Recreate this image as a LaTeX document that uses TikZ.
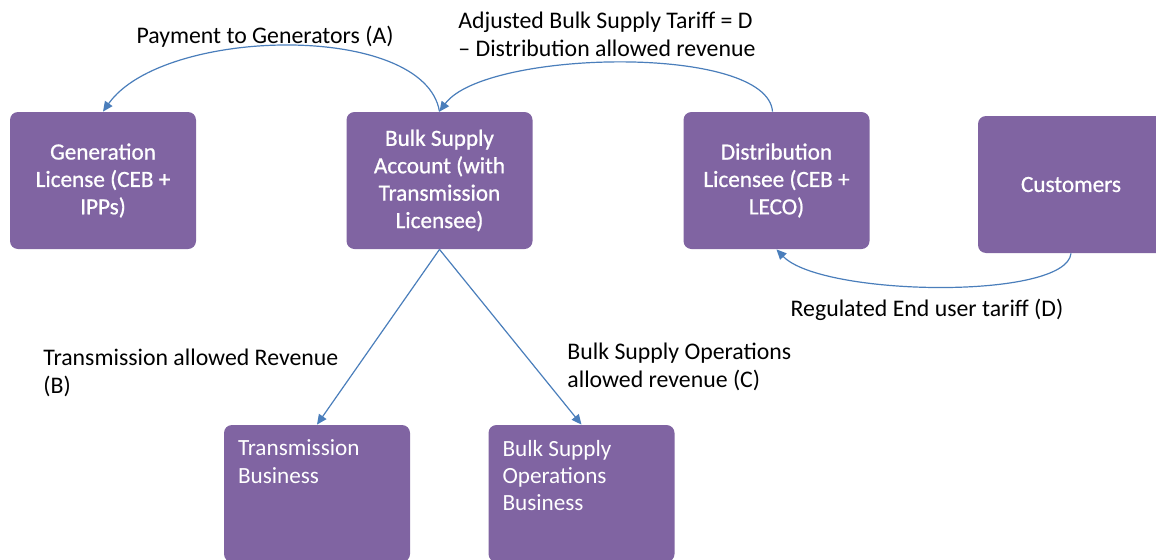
\documentclass[tikz,border=0pt]{standalone}
\usepackage{fontspec}
\setmainfont{Carlito}
\newfontfamily\semibold[FakeBold=0.8]{Carlito}
\usetikzlibrary{arrows.meta}
\definecolor{boxpurple}{HTML}{8064A2}
\definecolor{flowblue}{HTML}{4A7EBB}
\tikzset{
  licbox/.style={fill=boxpurple, rounded corners=4pt, text=white, align=center,
    minimum width=93pt, minimum height=68.5pt, inner sep=2pt,
    font=\semibold\fontsize{11.6}{13.7}\selectfont},
  bizbox/.style={fill=boxpurple, rounded corners=4pt,
    minimum width=93pt, minimum height=68.5pt},
  bizlabel/.style={text=white, align=left, anchor=north west, inner sep=0pt,
    xshift=7pt, yshift=-7.5pt, font=\fontsize{11.6}{13.7}\selectfont},
  flowlabel/.style={inner sep=0pt, align=left, font=\fontsize{11.9}{14}\selectfont},
  flow/.style={draw=flowblue, line width=0.6pt, -{Triangle[length=5pt,width=4.5pt]}}
}
\begin{document}
\begin{tikzpicture}[x=0.5pt, y=0.5pt]
  \useasboundingbox (0,0) rectangle (1156,559);
  % top row
  \node[licbox] (gen)  at (103,378.5)  {Generation\\License (CEB +\\IPPs)};
  \node[licbox] (bulk) at (439.5,378.5) {Bulk Supply\\Account (with\\Transmission\\Licensee)};
  \node[licbox] (dist) at (776.5,378.5) {Distribution\\Licensee (CEB +\\LECO)};
  \node[licbox] (cust) at (1071,374.5) {Customers};
  % bottom row
  \node[bizbox, label={[bizlabel]north west:Transmission\\Business}] (trans) at (317,65.5) {};
  \node[bizbox, label={[bizlabel]north west:Bulk Supply\\Operations\\Business}] (ops) at (581.5,65.5) {};
  % labels
  \node[flowlabel] (pay) at (265,522) {Payment to Generators (A)};
  \node[flowlabel, anchor=west] (adj) at (458,525) {Adjusted Bulk Supply Tariff = D\\-- Distribution allowed revenue};
  \node[flowlabel] (reg) at (927,249) {Regulated End user tariff (D)};
  \node[flowlabel, anchor=west] (transrev) at (43,186.5) {Transmission allowed Revenue\\(B)};
  \node[flowlabel, anchor=west] (opsrev) at (567,192) {Bulk Supply Operations\\allowed revenue (C)};
  % money flows
  \draw[flow] (bulk.north) .. controls +(-15,90) and +(60,85) .. (gen.north);
  \draw[flow] ([xshift=-2pt]dist.north) .. controls +(-5,68) and +(45,62) .. (bulk.north);
  \draw[flow] (cust.south) .. controls +(-5,-47) and +(45,-47) .. (dist.south);
  \draw[flow] (bulk.south) -- (trans.north);
  \draw[flow] (bulk.south) -- (ops.north);
\end{tikzpicture}
\end{document}
